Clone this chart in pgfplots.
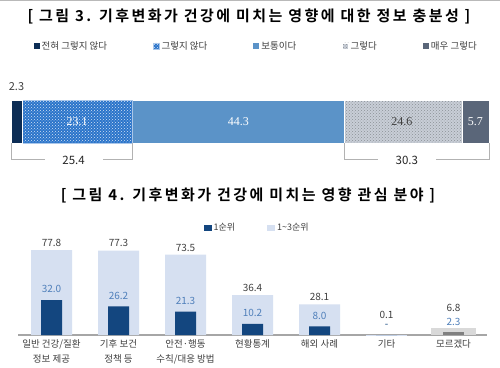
\documentclass[border=0pt]{standalone}
\usepackage{fontspec}
\setmainfont{Noto Sans CJK KR}[BoldFont={Noto Sans CJK KR Bold}]
\newfontfamily\titlefont{Noto Sans CJK KR Bold}[LetterSpace=16.5]
\newfontfamily\serifnum{Liberation Serif}
\usepackage{pgfplots}
\pgfplotsset{compat=1.18}
\usetikzlibrary{patterns}
\definecolor{c1}{HTML}{0C2D55}
\definecolor{c2}{HTML}{2A74CA}
\definecolor{c3}{HTML}{5B93C8}
\definecolor{c4}{HTML}{C8CED7}
\definecolor{c5}{HTML}{5A6679}
\definecolor{dk}{HTML}{13467F}
\definecolor{lt}{HTML}{D6E0F1}
\definecolor{lbl}{HTML}{4F7FBA}
\definecolor{txt}{HTML}{404040}
\begin{document}
\begin{tikzpicture}
\useasboundingbox (0,0) rectangle (500pt,-367pt);
\fill[white] (0,0) rectangle (500pt,-367pt);
\draw[gray!55, line width=1pt] (0,-0.5pt) -- (500pt,-0.5pt);
\node[font=\titlefont\fontsize{15}{17}\selectfont] at (249pt,-16pt) {[ 그림 3. 기후변화가 건강에 미치는 영향에 대한 정보 충분성 ]};
\node[font=\titlefont\fontsize{15}{17}\selectfont] at (248pt,-195pt) {[ 그림 4. 기후변화가 건강에 미치는 영향 관심 분야 ]};

% ---- Chart 1
\begin{axis}[at={(11pt,-143pt)}, anchor=south west, scale only axis,
  width=478pt, height=43pt, xmin=0, xmax=100, ymin=-0.5, ymax=0.5,
  xbar stacked, bar width=43pt, hide axis, clip=false,
  legend columns=5,
  legend style={at={(0.513,2.256)}, anchor=center, draw=none, fill=none,
    font=\fontsize{9.5}{11}\selectfont, text=txt,
    /tikz/every even column/.append style={column sep=44pt}},
  legend image code/.code={\draw[#1, draw=none] (0pt,-3pt) rectangle (6pt,3pt);}]
\addplot[fill=c1, draw=white, line width=0.3pt] coordinates {(2.3,0)};
\addlegendentry{전혀 그렇지 않다}
\addplot[fill=c2, draw=white!60!c2, line width=0.5pt, postaction={pattern=crosshatch dots, pattern color=white!80!c2}] coordinates {(23.1,0)};
\addlegendentry{그렇지 않다}
\addplot[fill=c3, draw=white, line width=0.3pt] coordinates {(44.3,0)};
\addlegendentry{보통이다}
\addplot[fill=c4, draw=white, line width=0.3pt, postaction={pattern=crosshatch dots, pattern color=c4!70!black}] coordinates {(24.6,0)};
\addlegendentry{그렇다}
\addplot[fill=c5, draw=white, line width=0.3pt] coordinates {(5.7,0)};
\addlegendentry{매우 그렇다}
\coordinate (a0) at (axis cs:1.15,0.82);
\coordinate (a1) at (axis cs:13.85,0);
\coordinate (a2) at (axis cs:47.55,0);
\coordinate (a3) at (axis cs:81.75,0);
\coordinate (a4) at (axis cs:97.15,0);
\coordinate (b0) at (axis cs:0,-0.5);
\coordinate (b1) at (axis cs:0,-0.872);
\coordinate (b2) at (axis cs:25.4,-0.872);
\coordinate (b3) at (axis cs:25.4,-0.5);
\coordinate (d0) at (axis cs:69.7,-0.5);
\coordinate (d1) at (axis cs:69.7,-0.872);
\coordinate (d2) at (axis cs:100,-0.872);
\coordinate (d3) at (axis cs:100,-0.5);
\coordinate (e1) at (axis cs:13.1,-0.9);
\coordinate (e2) at (axis cs:82.8,-0.9);
\end{axis}
\node[font=\fontsize{11}{13}\selectfont, text=txt] at (a0) {2.3};
\node[font=\serifnum\fontsize{12}{14}\selectfont, text=white] at (a1) {23.1};
\node[font=\serifnum\fontsize{12}{14}\selectfont, text=white] at (a2) {44.3};
\node[font=\serifnum\fontsize{12}{14}\selectfont, text=txt] at (a3) {24.6};
\node[font=\serifnum\fontsize{12}{14}\selectfont, text=white] at (a4) {5.7};
\draw[gray!60, line width=0.8pt] (b0) -- (b1) -- (b2) -- (b3);
\draw[gray!60, line width=0.8pt] (d0) -- (d1) -- (d2) -- (d3);
\node[fill=white, minimum width=58pt, inner sep=1pt, font=\fontsize{11.5}{13}\selectfont, text=black!85] at (e1) {25.4};
\node[fill=white, minimum width=58pt, inner sep=1pt, font=\fontsize{11.5}{13}\selectfont, text=black!85] at (e2) {30.3};

% ---- Chart 2
\begin{axis}[at={(18pt,-335pt)}, anchor=south west, scale only axis,
  width=469pt, height=85pt, xmin=-0.5, xmax=6.5, ymin=0, ymax=77.8,
  ybar, clip=false,
  axis x line*=bottom, axis y line=none,
  x axis line style={draw=gray!70, line width=1.5pt},
  xtick={0,...,6}, major tick length=0pt,
  xticklabels={{일반 건강/질환\\정보 제공},{기후 보건\\정책 등},{안전·행동\\수칙/대응 방법},{현황통계},{해외 사례},{기타},{모르겠다}},
  xticklabel style={font=\fontsize{9.5}{15}\selectfont, text=txt, align=center, yshift=-1pt},
  ytick=\empty,
  point meta=explicit symbolic,
  nodes near coords,
  legend columns=2,
  legend style={at={(0.51,1.259)}, anchor=center, draw=none, fill=none,
    font=\fontsize{9}{11}\selectfont, text=txt,
    /tikz/every even column/.append style={column sep=30pt}},
  legend image code/.code={\draw[#1, draw=none] (0pt,-3pt) rectangle (8pt,3pt);}]
\addlegendimage{fill=dk, draw=none}
\addlegendentry{1순위}
\addlegendimage{fill=lt, draw=none}
\addlegendentry{1\textasciitilde3순위}
\addplot[forget plot, bar shift=0pt, bar width=41pt, fill=lt, draw=none,
  nodes near coords style={font=\fontsize{10}{12}\selectfont, text=txt}]
  coordinates {(0,77.8)[77.8] (1,77.3)[77.3] (2,73.5)[73.5] (3,36.4)[36.4] (4,28.1)[28.1]};
\addplot[forget plot, bar shift=0pt, bar width=41pt, fill=lt, draw=none,
  nodes near coords style={font=\fontsize{10}{12}\selectfont, text=txt, yshift=13pt}]
  coordinates {(5,0.1)[0.1]};
\addplot[forget plot, bar shift=0pt, bar width=45pt, fill=black!15, draw=none,
  nodes near coords style={font=\fontsize{10}{12}\selectfont, text=txt, yshift=12.5pt}]
  coordinates {(6,6.8)[6.8]};
\addplot[forget plot, bar shift=0pt, bar width=21pt, fill=dk, draw=none,
  nodes near coords style={font=\fontsize{10}{12}\selectfont, text=lbl, yshift=3.5pt}]
  coordinates {(0,32.0)[32.0] (1,26.2)[26.2] (2,21.3)[21.3] (3,10.2)[10.2] (4,8.0)[8.0]};
\addplot[forget plot, bar shift=0pt, bar width=21pt, fill=dk, draw=none,
  nodes near coords style={font=\fontsize{10}{12}\selectfont, text=dk, yshift=3.5pt}]
  coordinates {(5,0)[-]};
\addplot[forget plot, bar shift=0pt, bar width=21pt, fill=black!50, draw=none,
  nodes near coords style={font=\fontsize{10}{12}\selectfont, text=lbl, yshift=3.5pt}]
  coordinates {(6,2.3)[2.3]};
\end{axis}
\end{tikzpicture}
\end{document}
